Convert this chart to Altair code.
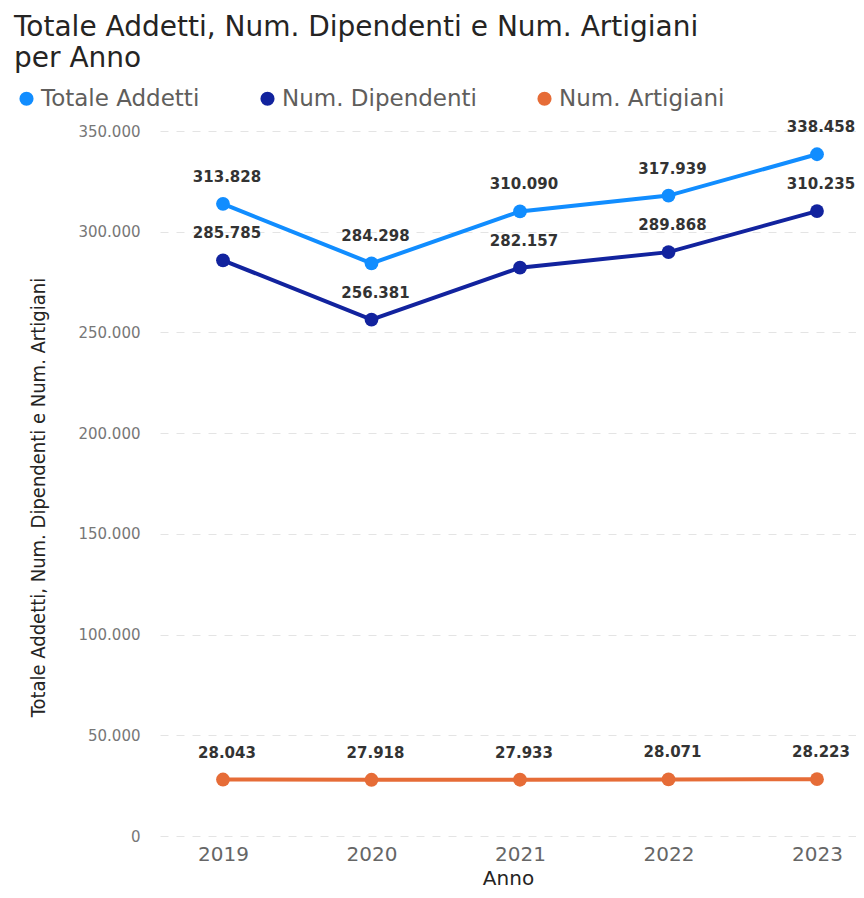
import altair as alt
import pandas as pd

years = ["2019", "2020", "2021", "2022", "2023"]
series_names = ["Totale Addetti", "Num. Dipendenti", "Num. Artigiani"]
totale = [313828, 284298, 310090, 317939, 338458]
dipendenti = [285785, 256381, 282157, 289868, 310235]
artigiani = [28043, 27918, 27933, 28071, 28223]
colors = ["#118DFF", "#12239E", "#E66C37"]
y_ticks = [0, 50000, 100000, 150000, 200000, 250000, 300000, 350000]

rows = []
for name, vals in zip(series_names, [totale, dipendenti, artigiani]):
    for yr, v in zip(years, vals):
        rows.append({"Anno": yr, "Serie": name, "Valore": v})
df = pd.DataFrame(rows)

FONT = "DejaVu Sans"

x = alt.X("Anno:O", scale=alt.Scale(type="point", padding=0.3434, align=0.6176),
          axis=alt.Axis(title="Anno", labelAngle=0, labelFontSize=20, labelColor="#666666",
                        labelFont=FONT, labelPadding=8, ticks=False, domain=False,
                        titleFontSize=20, titleColor="#252423", titleFont=FONT,
                        titleFontWeight="normal", titlePadding=4, grid=False))
y = alt.Y("Valore:Q", scale=alt.Scale(domain=[0, 350000], nice=False),
          axis=alt.Axis(title="Totale Addetti, Num. Dipendenti e Num. Artigiani",
                        values=y_ticks,
                        labelExpr="replace(format(datum.value, ','), regexp(',', 'g'), '.')",
                        labelFontSize=15, labelColor="#777777", labelFont=FONT,
                        labelPadding=20, ticks=False, domain=False,
                        grid=True, gridColor="#e4e4e4", gridDash=[8, 8], gridWidth=1,
                        titleFont="DejaVu Sans Condensed, Liberation Sans, sans-serif",
                        titleFontSize=20,
                        titleColor="#252423", titleFontWeight="normal",
                        titleX=-122, titleY=366, titleBaseline="middle", titleAlign="center"))

legend = alt.Legend(title=None, orient="none", direction="horizontal",
                    legendX=-145, legendY=-44,
                    symbolType="circle", symbolSize=200, symbolStrokeWidth=0,
                    labelFontSize=23, labelColor="#605E5C", labelFont=FONT,
                    labelLimit=400, labelOffset=3, columnPadding=56)
color = alt.Color("Serie:N", scale=alt.Scale(domain=series_names, range=colors),
                  legend=legend, sort=series_names)

base = alt.Chart(df)

lines = base.mark_line(strokeWidth=4).encode(x=x, y=y, color=color)
points = base.mark_circle(size=190, opacity=1).encode(x=x, y=y, color=color)
labels = base.transform_calculate(
    lab="replace(format(datum.Valore, ','), regexp(',', 'g'), '.')"
).mark_text(dy=-27, dx=4, fontSize=15, font=FONT, fontWeight="bold", color="#333333").encode(
    x=x, y=y, text="lab:N",
)

chart = alt.layer(lines, points, labels).properties(
    width=696, height=705,
    autosize=alt.AutoSizeParams(type="none"),
    padding={"left": 152, "top": 123, "right": 0, "bottom": 52},
    title=alt.TitleParams(
        text=["Totale Addetti, Num. Dipendenti e Num. Artigiani", "per Anno"],
        anchor="start", frame="group", dx=-146, offset=14,
        fontSize=28, font=FONT, fontWeight="normal", color="#252423", lineHeight=31,
    ),
).configure_view(stroke=None)

chart.save("out.html", embed_options={"renderer": "svg", "actions": False})
